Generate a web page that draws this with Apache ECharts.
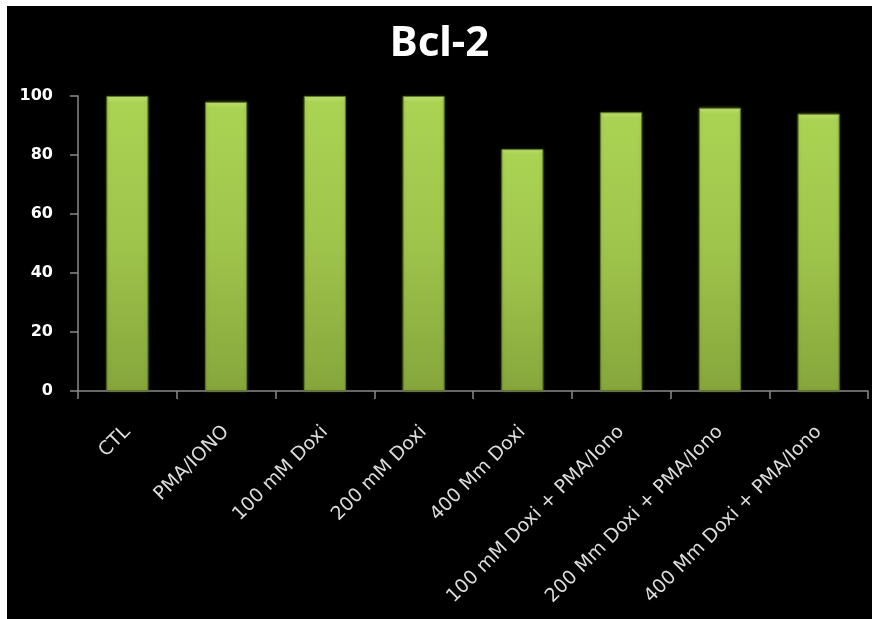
<!DOCTYPE html>
<html>
<head>
<meta charset="utf-8">
<script src="https://cdn.jsdelivr.net/npm/echarts@6/dist/echarts.min.js"></script>
<style>
  html, body { margin: 0; padding: 0; background: #ffffff; }
  #chart { position: absolute; left: 7px; top: 6px; width: 865px; height: 613px; background: #000000; }
</style>
</head>
<body>
<div id="chart"></div>
<script>
// Bcl-2 expression per treatment group
const categories = [
  'CTL',
  'PMA/IONO',
  '100 mM Doxi',
  '200 mM Doxi',
  '400 Mm Doxi',
  '100 mM Doxi + PMA/Iono',
  '200 Mm Doxi + PMA/Iono',
  '400 Mm Doxi + PMA/Iono'
];
const bcl2Values = [100, 98, 100, 100, 82, 94.5, 96, 94];
const yTicks = { min: 0, max: 100, interval: 20 };

const chart = echarts.init(document.getElementById('chart'), null, { renderer: 'canvas' });

const axisGrey = '#8a8a8a';

chart.setOption({
  backgroundColor: '#000000',
  animation: false,
  title: {
    text: 'Bcl-2',
    left: 'center',
    top: 12,
    textStyle: {
      color: '#ffffff',
      fontFamily: 'Noto Sans',
      fontWeight: 'bold',
      fontSize: 42
    }
  },
  grid: { left: 71, right: 4, top: 90, bottom: 228, containLabel: false },
  xAxis: {
    type: 'category',
    data: categories,
    boundaryGap: true,
    axisLine: { lineStyle: { color: axisGrey, width: 1.5 } },
    axisTick: { show: true, length: 8, inside: false, alignWithLabel: false, lineStyle: { color: axisGrey, width: 1.5 } },
    axisLabel: {
      rotate: 45,
      interval: 0,
      margin: 38,
      color: '#dcdcdc',
      fontFamily: 'DejaVu Sans',
      fontSize: 19
    },
    splitLine: { show: false }
  },
  yAxis: {
    type: 'value',
    min: yTicks.min,
    max: yTicks.max,
    interval: yTicks.interval,
    axisLine: { show: true, lineStyle: { color: axisGrey, width: 1.5 } },
    axisTick: { show: true, length: 8, inside: false, lineStyle: { color: axisGrey, width: 1.5 } },
    axisLabel: {
      margin: 25,
      color: '#ffffff',
      fontFamily: 'DejaVu Sans',
      fontWeight: 'bold',
      fontSize: 16
    },
    splitLine: { show: false }
  },
  series: [{
    type: 'bar',
    data: bcl2Values,
    barWidth: 42,
    itemStyle: {
      color: new echarts.graphic.LinearGradient(0, 0, 0, 1, [
        { offset: 0, color: '#c6e67c' },
        { offset: 0.02, color: '#aad353' },
        { offset: 0.5, color: '#9fc44b' },
        { offset: 1, color: '#86a63c' }
      ]),
      borderColor: '#5f7a26',
      borderWidth: 1,
      shadowColor: 'rgba(110,140,40,0.5)',
      shadowBlur: 3
    }
  }]
});
</script>
</body>
</html>
